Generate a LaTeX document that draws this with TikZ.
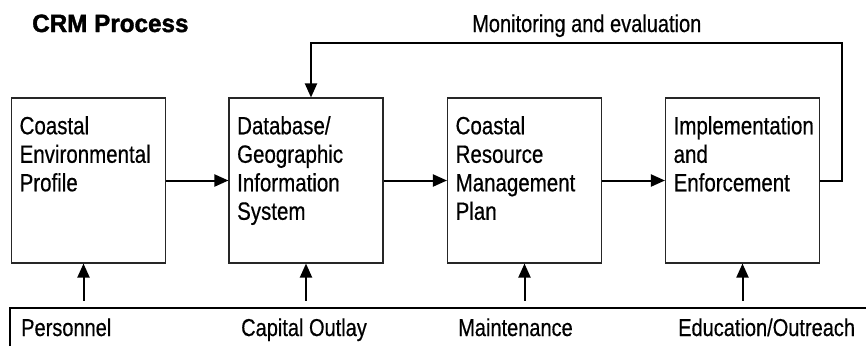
\documentclass[tikz,border=0pt]{standalone}
\usepackage{fontspec}
\setmainfont{Liberation Sans}[FakeStretch=0.82,FakeBold=0.5]
\newfontfamily\headfont{Liberation Sans}[FakeStretch=0.97,FakeBold=1.5]
\usetikzlibrary{arrows.meta}
\tikzset{
	stage/.style={draw=black!85,line width=1.1bp,minimum width=154bp,minimum height=165bp,inner sep=0},
	stagetext/.style={anchor=north west,align=left,inner sep=0,font=\fontsize{25bp}{28.5bp}\selectfont},
	lbl/.style={anchor=base west,inner sep=0,font=\fontsize{24.4bp}{28bp}\selectfont},
	flow/.style={line width=2bp,-{Triangle[length=14bp,width=12bp]}}
}
\begin{document}
\begin{tikzpicture}[x=1bp,y=-1bp]
				\useasboundingbox (0,0) rectangle (866,346);
				\node[lbl,font=\headfont\bfseries\fontsize{25bp}{28bp}\selectfont] (title) at (32,32) {CRM Process};
				\node[stage] (cep) at (88.5,180.5) {};
				\node[stage] (dbgis) at (306,180.5) {};
				\node[stage] (crmp) at (524.5,180.5) {};
				\node[stage] (impl) at (742.5,180.5) {};
				\node[stagetext] (cepT) at ([shift={(8.5,18.5)}]cep.north west) {Coastal\\Environmental\\Profile};
				\node[stagetext] (dbgisT) at ([shift={(8.5,18.5)}]dbgis.north west) {Database/\\Geographic\\Information\\System};
				\node[stagetext] (crmpT) at ([shift={(8.5,18.5)}]crmp.north west) {Coastal\\Resource\\Management\\Plan};
				\node[stagetext] (implT) at ([shift={(8.5,18.5)}]impl.north west) {Implementation\\and\\Enforcement};
				\draw[flow] (cep) -- (dbgis);
				\draw[flow] (dbgis) -- (crmp);
				\draw[flow] (crmp) -- (impl);
				% feedback loop
				\node[lbl] (moneval) at (472,32) {Monitoring and evaluation};
				\coordinate (fbR) at (842,43);
				\coordinate (fbL) at (311,43);
				\draw[flow] (impl.east) -| (fbR) -- (fbL) -- (fbL |- dbgis.north);
				% resources
				\draw[line width=1.1bp] (10,346) -- (10,308) -- (866,308);
				\node[lbl] (pers) at (21,336) {Personnel};
				\node[lbl] (capout) at (241,336) {Capital Outlay};
				\node[lbl] (maint) at (458,336) {Maintenance};
				\node[lbl] (eduout) at (678,336) {Education/Outreach};
				\draw[flow] ([xshift=-5bp,yshift=-37bp]cep.south) -- ([xshift=-5bp]cep.south);
				\draw[flow] ([yshift=-37bp]dbgis.south) -- (dbgis.south);
				\draw[flow] ([yshift=-37bp]crmp.south) -- (crmp.south);
				\draw[flow] ([yshift=-37bp]impl.south) -- (impl.south);
			\end{tikzpicture}
\end{document}
